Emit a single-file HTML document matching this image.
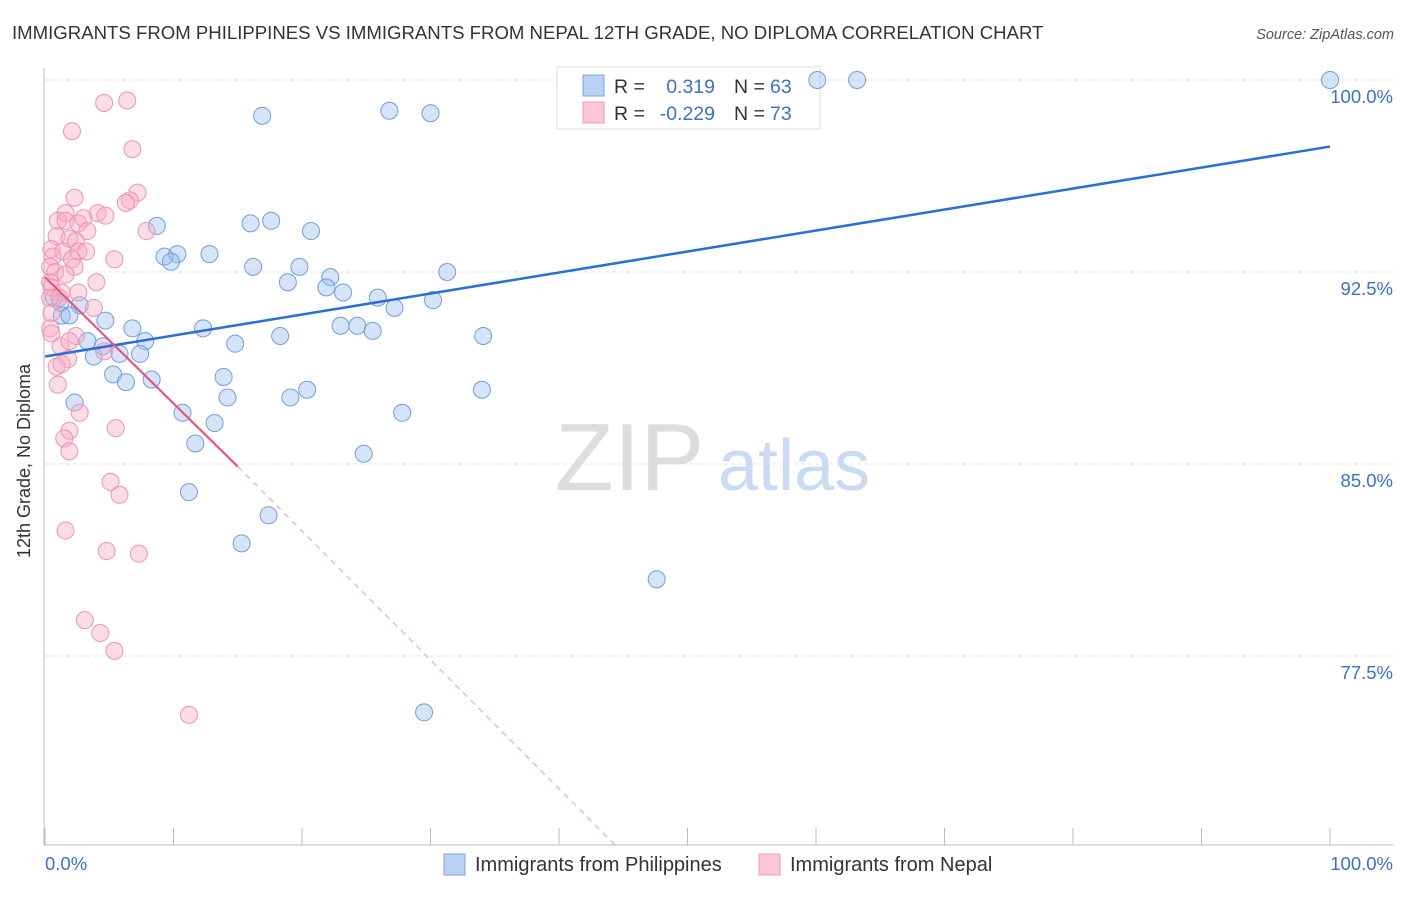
<!DOCTYPE html>
<html><head><meta charset="utf-8"><style>
body{margin:0;background:#fff;font-family:"Liberation Sans",sans-serif;}
svg text{font-family:"Liberation Sans",sans-serif;}
</style></head><body>
<svg width="1406" height="892" viewBox="0 0 1406 892">
<text x="12" y="39" font-size="18.6" fill="#333">IMMIGRANTS FROM PHILIPPINES VS IMMIGRANTS FROM NEPAL 12TH GRADE, NO DIPLOMA CORRELATION CHART</text>
<text x="1394" y="39" font-size="14.5" fill="#555" text-anchor="end" font-style="italic">Source: ZipAtlas.com</text>
<g id="grid"></g>
<text x="555" y="490" font-size="96" fill="#ddd" font-family="Liberation Serif">ZIP</text>
<text x="718" y="490" font-size="72" fill="#c9dbf3">atlas</text>
<g>
<rect x="557" y="67" width="263" height="62" fill="#fff" stroke="#ddd"/>
<rect x="583" y="75" width="21" height="21" fill="#b9d1f3" stroke="#7aa5e4"/>
<rect x="583" y="102" width="21" height="21" fill="#fcc7d6" stroke="#f19ab5"/>
<text x="614" y="93" font-size="19.5" fill="#333">R =</text><text x="715" y="93" font-size="19.5" fill="#3b72c4" text-anchor="end">0.319</text>
<text x="734" y="93" font-size="19.5" fill="#333">N =</text><text x="770" y="93" font-size="19.5" fill="#3b72c4">63</text>
<text x="614" y="120" font-size="19.5" fill="#333">R =</text><text x="715" y="120" font-size="19.5" fill="#3b72c4" text-anchor="end">-0.229</text>
<text x="734" y="120" font-size="19.5" fill="#333">N =</text><text x="770" y="120" font-size="19.5" fill="#3b72c4">73</text>
</g>
<g id="marks"></g>
<text x="24" y="455" font-size="18" fill="#333" transform="rotate(-90 30 455)" text-anchor="middle">12th Grade, No Diploma</text>
<text x="45" y="870" font-size="18.5" fill="#3b72c4">0.0%</text>
<text x="1393" y="870" font-size="18.5" fill="#3b72c4" text-anchor="end">100.0%</text>
<g>
<rect x="444" y="854" width="21" height="21" fill="#b9d1f3" stroke="#7aa5e4"/>
<text x="475" y="871" font-size="20" fill="#333">Immigrants from Philippines</text>
<rect x="759" y="854" width="21" height="21" fill="#fcc7d6" stroke="#f19ab5"/>
<text x="790" y="871" font-size="20" fill="#333">Immigrants from Nepal</text>
</g>
</svg>
<script>
const yTicks=[100,92.5,85,77.5];
const yTickLabels=["100.0%","92.5%","85.0%","77.5%"];
const xTicks=[0,10,20,30,40,50,60,70,80,90,100];
const blueX=[100,60.1,63.2,16.9,26.8,30.0,8.7,16.0,17.6,20.7,9.3,10.3,9.8,12.8,16.2,19.8,18.9,22.2,21.9,23.2,31.3,25.9,27.2,30.2,0.7,1.2,2.7,1.3,1.9,4.7,6.8,12.3,23.0,24.3,25.5,18.3,34.1,3.3,7.8,14.8,3.8,5.8,7.4,4.5,5.3,6.3,8.3,13.9,20.4,19.1,14.2,34.0,2.3,10.7,27.8,13.2,11.7,24.8,11.2,17.4,15.3,47.6,29.5];
const blueY=[100,100,100,98.6,98.8,98.7,94.3,94.4,94.5,94.1,93.1,93.2,92.9,93.2,92.7,92.7,92.1,92.3,91.9,91.7,92.5,91.5,91.1,91.4,91.5,91.3,91.2,90.8,90.8,90.6,90.3,90.3,90.4,90.4,90.2,90.0,90.0,89.8,89.8,89.7,89.2,89.3,89.3,89.6,88.5,88.2,88.3,88.4,87.9,87.6,87.6,87.9,87.4,87.0,87.0,86.6,85.8,85.4,83.9,83.0,81.9,80.5,75.3];
const pinkX=[4.6,6.4,2.1,6.8,7.2,2.3,6.6,6.3,1.6,4.1,4.7,1.0,1.6,2.6,3.0,7.9,3.3,0.9,1.9,2.4,0.5,1.4,2.6,3.2,0.6,2.1,5.4,0.4,2.3,0.8,1.6,0.4,4.0,0.5,1.3,2.6,0.4,1.1,3.8,0.5,0.4,0.5,2.4,1.2,1.9,4.6,1.8,0.9,1.3,1.0,2.7,1.9,5.5,1.5,1.9,5.1,5.8,1.6,4.8,7.3,3.1,4.3,5.4,11.2];
const pinkY=[99.1,99.2,98.0,97.3,95.6,95.4,95.3,95.2,94.8,94.8,94.7,94.5,94.5,94.4,94.6,94.1,94.1,93.9,93.8,93.7,93.4,93.3,93.3,93.3,93.1,93.0,93.0,92.7,92.7,92.5,92.4,92.1,92.1,91.9,91.7,91.7,91.5,91.5,91.1,90.9,90.3,90.1,90.0,89.6,89.8,89.4,89.1,88.8,88.9,88.1,87.0,86.3,86.4,86.0,85.5,84.3,83.8,82.4,81.6,81.5,78.9,78.4,77.7,75.2];
const blueTrend=[[0,89.2],[100,97.4]];
const pinkTrendSolid=[[0,92.3],[15,84.9]];
const pinkTrendDash=[[15,84.9],[44.4,70.1]];
const NS="http://www.w3.org/2000/svg";
const sx=v=>45+v*12.85;
const sy=v=>80+(100-v)*25.6;
function mk(tag,attrs,parent){const e=document.createElementNS(NS,tag);for(const k in attrs)e.setAttribute(k,attrs[k]);parent.appendChild(e);return e;}
const grid=document.getElementById('grid'),marks=document.getElementById('marks');
yTicks.forEach((t,i)=>{
 const l=mk('line',{x1:45,x2:1393,y1:sy(t),y2:sy(t),stroke:'#e2e2e2','stroke-dasharray':'4,3'},grid);
 
 
 const tx=mk('text',{x:1393,y:sy(t)+23,'font-size':18.5,fill:'#3b72c4','text-anchor':'end'},grid);
 tx.textContent=yTickLabels[i];
 
 
});
const ax=mk('line',{x1:44,x2:44,y1:68,y2:845,stroke:'#bbb'},grid);


const bx=mk('line',{x1:44,x2:1393,y1:845,y2:845,stroke:'#bbb'},grid);


xTicks.forEach(t=>{
 const l=mk('line',{x1:sx(t),x2:sx(t),y1:828,y2:845,stroke:'#bbb'},grid);
 
 
});
blueX.forEach((x,i)=>{
 const c=mk('circle',{cx:sx(x),cy:sy(blueY[i]),r:8.5,fill:'rgba(150,188,238,0.4)',stroke:'#6f9fe0','stroke-width':1},marks);
 
 
});
pinkX.forEach((x,i)=>{
 const c=mk('circle',{cx:sx(x),cy:sy(pinkY[i]),r:8.5,fill:'rgba(248,170,195,0.4)',stroke:'#ee94b2','stroke-width':1},marks);
 
 
});
const bl=mk('line',{x1:sx(blueTrend[0][0]),y1:sy(blueTrend[0][1]),x2:sx(blueTrend[1][0]),y2:sy(blueTrend[1][1]),stroke:'#2b6fd6','stroke-width':2.5},marks);


const pl=mk('line',{x1:sx(pinkTrendSolid[0][0]),y1:sy(pinkTrendSolid[0][1]),x2:sx(pinkTrendSolid[1][0]),y2:sy(pinkTrendSolid[1][1]),stroke:'#e5577f','stroke-width':2.2},marks);


const pd=mk('line',{x1:sx(pinkTrendDash[0][0]),y1:sy(pinkTrendDash[0][1]),x2:sx(pinkTrendDash[1][0]),y2:sy(pinkTrendDash[1][1]),stroke:'#f1a9bf','stroke-width':1.2,'stroke-dasharray':'6,5'},marks);


</script>
</body></html>
